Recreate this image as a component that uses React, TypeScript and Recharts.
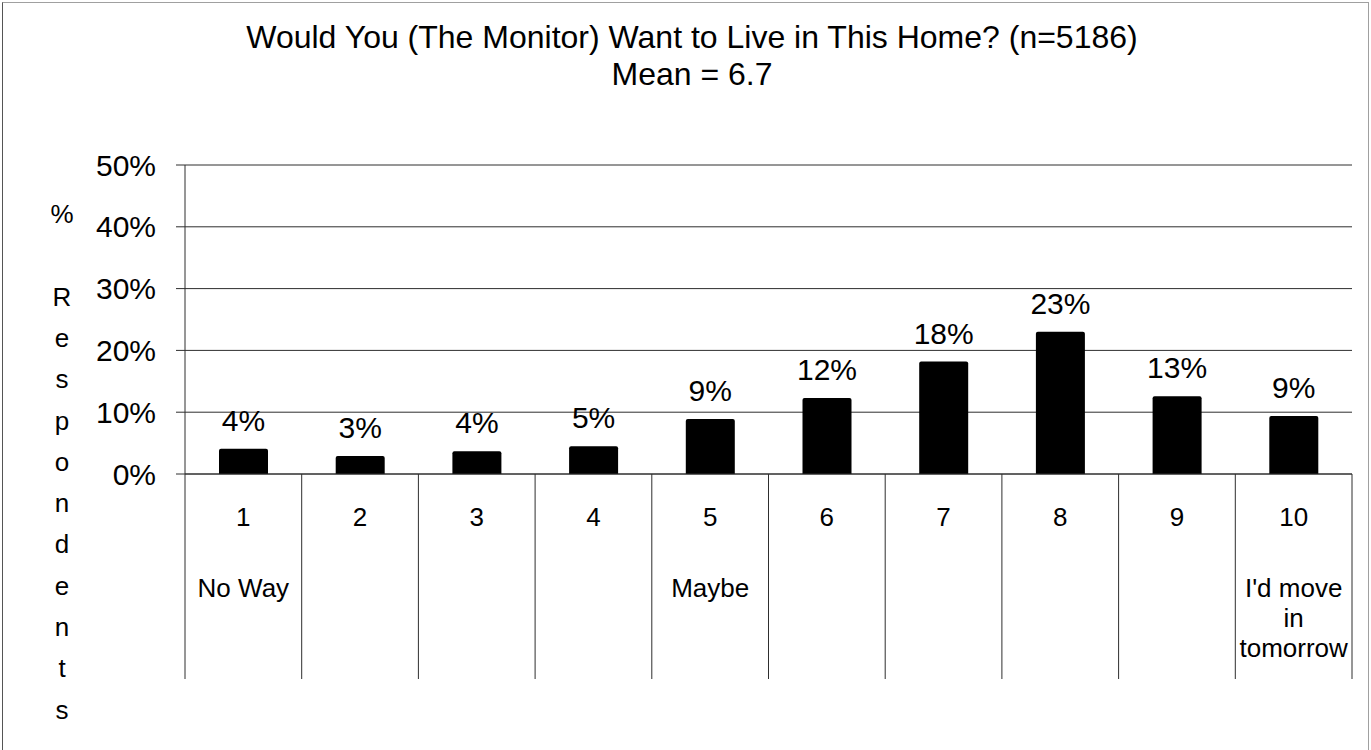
import React from 'react';
import { BarChart, Bar, XAxis, YAxis, CartesianGrid, LabelList, Label } from 'recharts';

// ---- data ----
const categories = ['1', '2', '3', '4', '5', '6', '7', '8', '9', '10'];
const percentValues = [4.1, 2.9, 3.7, 4.5, 8.9, 12.3, 18.2, 23.0, 12.6, 9.4];
const anchorText: string[][] = [
  ['No Way'], [], [], [], ['Maybe'], [], [], [], [], ["I'd move", 'in', 'tomorrow'],
];
const yTicks = [0, 10, 20, 30, 40, 50];
const titleLines = ['Would You (The Monitor) Want to Live in This Home? (n=5186)', 'Mean = 6.7'];
const yAxisTitle = '% Respondents';

const data = categories.map((c, i) => ({ category: c, value: percentValues[i] }));

// ---- layout ----
const W = 1371;
const H = 750;
const PLOT_LEFT = 185;
const PLOT_RIGHT = 1352;
const PLOT_TOP = 165;
const PLOT_BOTTOM = 474;
const Y_AXIS_W = 80;
const X_AXIS_H = 200;
const SEP_BOTTOM = 679;
const BAND = (PLOT_RIGHT - PLOT_LEFT) / categories.length;
const FONT = '"Liberation Sans", Arial, Helvetica, sans-serif';
const LINE = '#2e2e2e';

const margin = {
  top: PLOT_TOP,
  right: W - PLOT_RIGHT,
  bottom: H - PLOT_BOTTOM - X_AXIS_H,
  left: PLOT_LEFT - Y_AXIS_W,
};

function XTick(props: any) {
  const { x, payload } = props;
  const i = categories.indexOf(String(payload.value));
  const lines = anchorText[i] || [];
  const left = x - BAND / 2;
  const right = x + BAND / 2;
  return (
    <g>
      <line x1={left} x2={left} y1={PLOT_BOTTOM} y2={SEP_BOTTOM} stroke={LINE} strokeWidth={1} />
      {i === categories.length - 1 && (
        <line x1={right} x2={right} y1={PLOT_BOTTOM} y2={SEP_BOTTOM} stroke={LINE} strokeWidth={1} />
      )}
      <text x={x} y={526} textAnchor="middle" fontSize={26} fontFamily={FONT} fill="#000">
        {payload.value}
      </text>
      {lines.map((l, k) => (
        <text key={k} x={x} y={597 + 30 * k} textAnchor="middle" fontSize={26} fontFamily={FONT} fill="#000">
          {l}
        </text>
      ))}
    </g>
  );
}

function VerticalTitle() {
  const chars = Array.from(yAxisTitle);
  return (
    <g>
      {chars.map((ch, k) => (
        <text key={k} x={62} y={223 + 41.3 * k} textAnchor="middle" fontSize={26} fontFamily={FONT} fill="#000">
          {ch}
        </text>
      ))}
    </g>
  );
}

export default function App() {
  return (
    <div style={{ position: 'absolute', left: 0, top: 0, width: W, height: H, background: '#fff', overflow: 'hidden' }}>
      <div
        style={{
          position: 'absolute', left: 2, top: 2, width: W - 4, height: H + 10,
          borderTop: '1px solid #a0a0a0', borderRight: '1px solid #a0a0a0', borderLeft: '1px solid #555',
          boxSizing: 'border-box',
        }}
      />
      <svg width={W} height={100} style={{ position: 'absolute', left: 0, top: 0 }}>
        {titleLines.map((t, k) => (
          <text key={k} x={692} y={48 + 37 * k} textAnchor="middle" fontSize={32} fontFamily={FONT} fill="#000">
            {t}
          </text>
        ))}
      </svg>
      <div style={{ position: 'absolute', left: 0, top: 0 }}>
        <BarChart width={W} height={H} data={data} margin={margin} barSize={49}>
          <CartesianGrid horizontal vertical={false} stroke={LINE} strokeWidth={1} />
          <XAxis
            dataKey="category"
            height={X_AXIS_H}
            interval={0}
            tickLine={false}
            axisLine={{ stroke: LINE }}
            tick={<XTick />}
          />
          <YAxis
            width={Y_AXIS_W}
            domain={[0, 50]}
            ticks={yTicks}
            interval={0}
            tickSize={9}
            tickMargin={20}
            tickLine={{ stroke: LINE }}
            axisLine={{ stroke: LINE }}
            tickFormatter={(v: number) => `${v}%`}
            tick={{ fontSize: 30, fontFamily: FONT, fill: '#000' }}
          >
            <Label content={() => <VerticalTitle />} />
          </YAxis>
          <Bar dataKey="value" fill="#000" radius={[2, 2, 0, 0]} isAnimationActive={false}>
            <LabelList
              dataKey="value"
              position="top"
              offset={18}
              formatter={(v: any) => `${Math.round(Number(v))}%`}
              style={{ fontSize: 30, fontFamily: FONT, fill: '#000' }}
            />
          </Bar>
        </BarChart>
      </div>
    </div>
  );
}
